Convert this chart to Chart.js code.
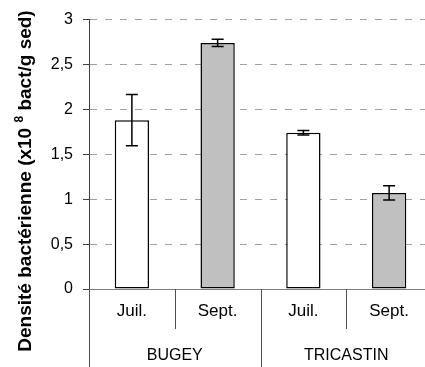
<!DOCTYPE html>
<html>
<head>
<meta charset="utf-8">
<script src="https://cdn.jsdelivr.net/npm/chart.js@4/dist/chart.umd.min.js"></script>
<style>
  html, body { margin: 0; padding: 0; background: #fff; overflow: hidden; }
  #wrap { position: relative; width: 440px; height: 367px; }
</style>
</head>
<body>
<div id="wrap"><canvas id="c"></canvas></div>
<script>
// Sampling months and sites
const months = ['Juil.', 'Sept.', 'Juil.', 'Sept.'];
const sites = ['BUGEY', 'TRICASTIN'];
// Mean bacterial density (x10^8 bact/g sed) and its error
const density = [1.88, 2.74, 1.74, 1.07];
const densityErr = [0.285, 0.04, 0.025, 0.08];
const yTicks = [0, 0.5, 1, 1.5, 2, 2.5, 3];
const barColors = ['#ffffff', '#c0c0c0', '#ffffff', '#c0c0c0'];
const titleParts = ['Densité bactérienne (x10 ', '8', ' bact/g sed)'];

const FONT = '"Liberation Sans", Arial, sans-serif';

const extras = {
  id: 'extras',
  afterDatasetsDraw(chart) {
    const { ctx, scales: { y } } = chart;
    const meta = chart.getDatasetMeta(0);
    ctx.save();
    ctx.strokeStyle = '#000';
    ctx.lineWidth = 1.5;
    meta.data.forEach((bar, i) => {
      const cx = bar.x;
      const top = y.getPixelForValue(density[i] + densityErr[i]);
      const bot = y.getPixelForValue(density[i] - densityErr[i]);
      ctx.beginPath();
      ctx.moveTo(cx, top); ctx.lineTo(cx, bot);
      ctx.moveTo(cx - 6, top); ctx.lineTo(cx + 6, top);
      ctx.moveTo(cx - 6, bot); ctx.lineTo(cx + 6, bot);
      ctx.stroke();
    });
    ctx.restore();
  },
  afterDraw(chart) {
    const { ctx, scales: { x }, chartArea } = chart;
    const H = chart.height;
    const half = (x.getPixelForValue(1) - x.getPixelForValue(0)) / 2;
    ctx.save();
    // category separators below the axis
    ctx.strokeStyle = '#505050';
    ctx.lineWidth = 1;
    for (let i = 0; i <= months.length; i++) {
      const px = Math.round(x.getPixelForValue(0) - half + i * 2 * half) + 0.5;
      const longLine = i % 2 === 0;
      ctx.beginPath();
      ctx.moveTo(px, chartArea.bottom);
      ctx.lineTo(px, longLine ? H : chartArea.bottom + 40);
      ctx.stroke();
    }
    // site labels
    ctx.fillStyle = '#000';
    ctx.font = '16px ' + FONT;
    ctx.textAlign = 'center';
    ctx.textBaseline = 'middle';
    sites.forEach((s, k) => {
      const cx = (x.getPixelForValue(2 * k) + x.getPixelForValue(2 * k + 1)) / 2;
      ctx.fillText(s, cx, chartArea.bottom + 67);
    });
    // rotated axis title with superscript exponent
    const mainFont = 'bold 19px ' + FONT;
    const supFont = 'bold 12px ' + FONT;
    ctx.font = mainFont;
    const w0 = ctx.measureText(titleParts[0]).width;
    const w2 = ctx.measureText(titleParts[2]).width;
    ctx.font = supFont;
    const w1 = ctx.measureText(titleParts[1]).width;
    const total = w0 + w1 + w2;
    ctx.translate(24, 181);
    ctx.rotate(-Math.PI / 2);
    ctx.textAlign = 'left';
    ctx.textBaseline = 'alphabetic';
    let sx = -total / 2;
    ctx.font = mainFont;
    ctx.fillText(titleParts[0], sx, 7);
    sx += w0;
    ctx.font = supFont;
    ctx.fillText(titleParts[1], sx, -1);
    sx += w1;
    ctx.font = mainFont;
    ctx.fillText(titleParts[2], sx, 7);
    ctx.restore();
  }
};

new Chart(document.getElementById('c'), {
  type: 'bar',
  data: {
    labels: months,
    datasets: [{
      data: density,
      backgroundColor: barColors,
      borderColor: '#000',
      borderWidth: 1.5,
      borderSkipped: false,
      categoryPercentage: 1,
      barPercentage: 0.4
    }]
  },
  options: {
    responsive: true,
    maintainAspectRatio: false,
    animation: false,
    devicePixelRatio: 1,
    layout: { padding: { top: 17, right: 8, left: 0, bottom: 0 } },
    plugins: { legend: { display: false }, tooltip: { enabled: false } },
    scales: {
      x: {
        grid: { display: false, drawTicks: false },
        border: { display: true, color: '#808080', width: 1 },
        ticks: { color: '#000', font: { family: FONT, size: 17 }, padding: 12, maxRotation: 0 },
        afterFit: s => { s.height = 78; }
      },
      y: {
        min: 0,
        max: 3,
        afterBuildTicks: s => { s.ticks = yTicks.map(v => ({ value: v })); },
        ticks: {
          color: '#000',
          font: { family: FONT, size: 16 },
          padding: 10,
          callback: v => String(v).replace('.', ',')
        },
        grid: { color: '#a0a0a0', lineWidth: 1, tickLength: 6, tickColor: '#404040', tickWidth: 1, tickBorderDash: [] },
        border: { display: true, color: '#404040', width: 1, dash: [7, 8] },
        afterFit: s => { s.width = 89; }
      }
    }
  },
  plugins: [extras]
});
</script>
</body>
</html>
